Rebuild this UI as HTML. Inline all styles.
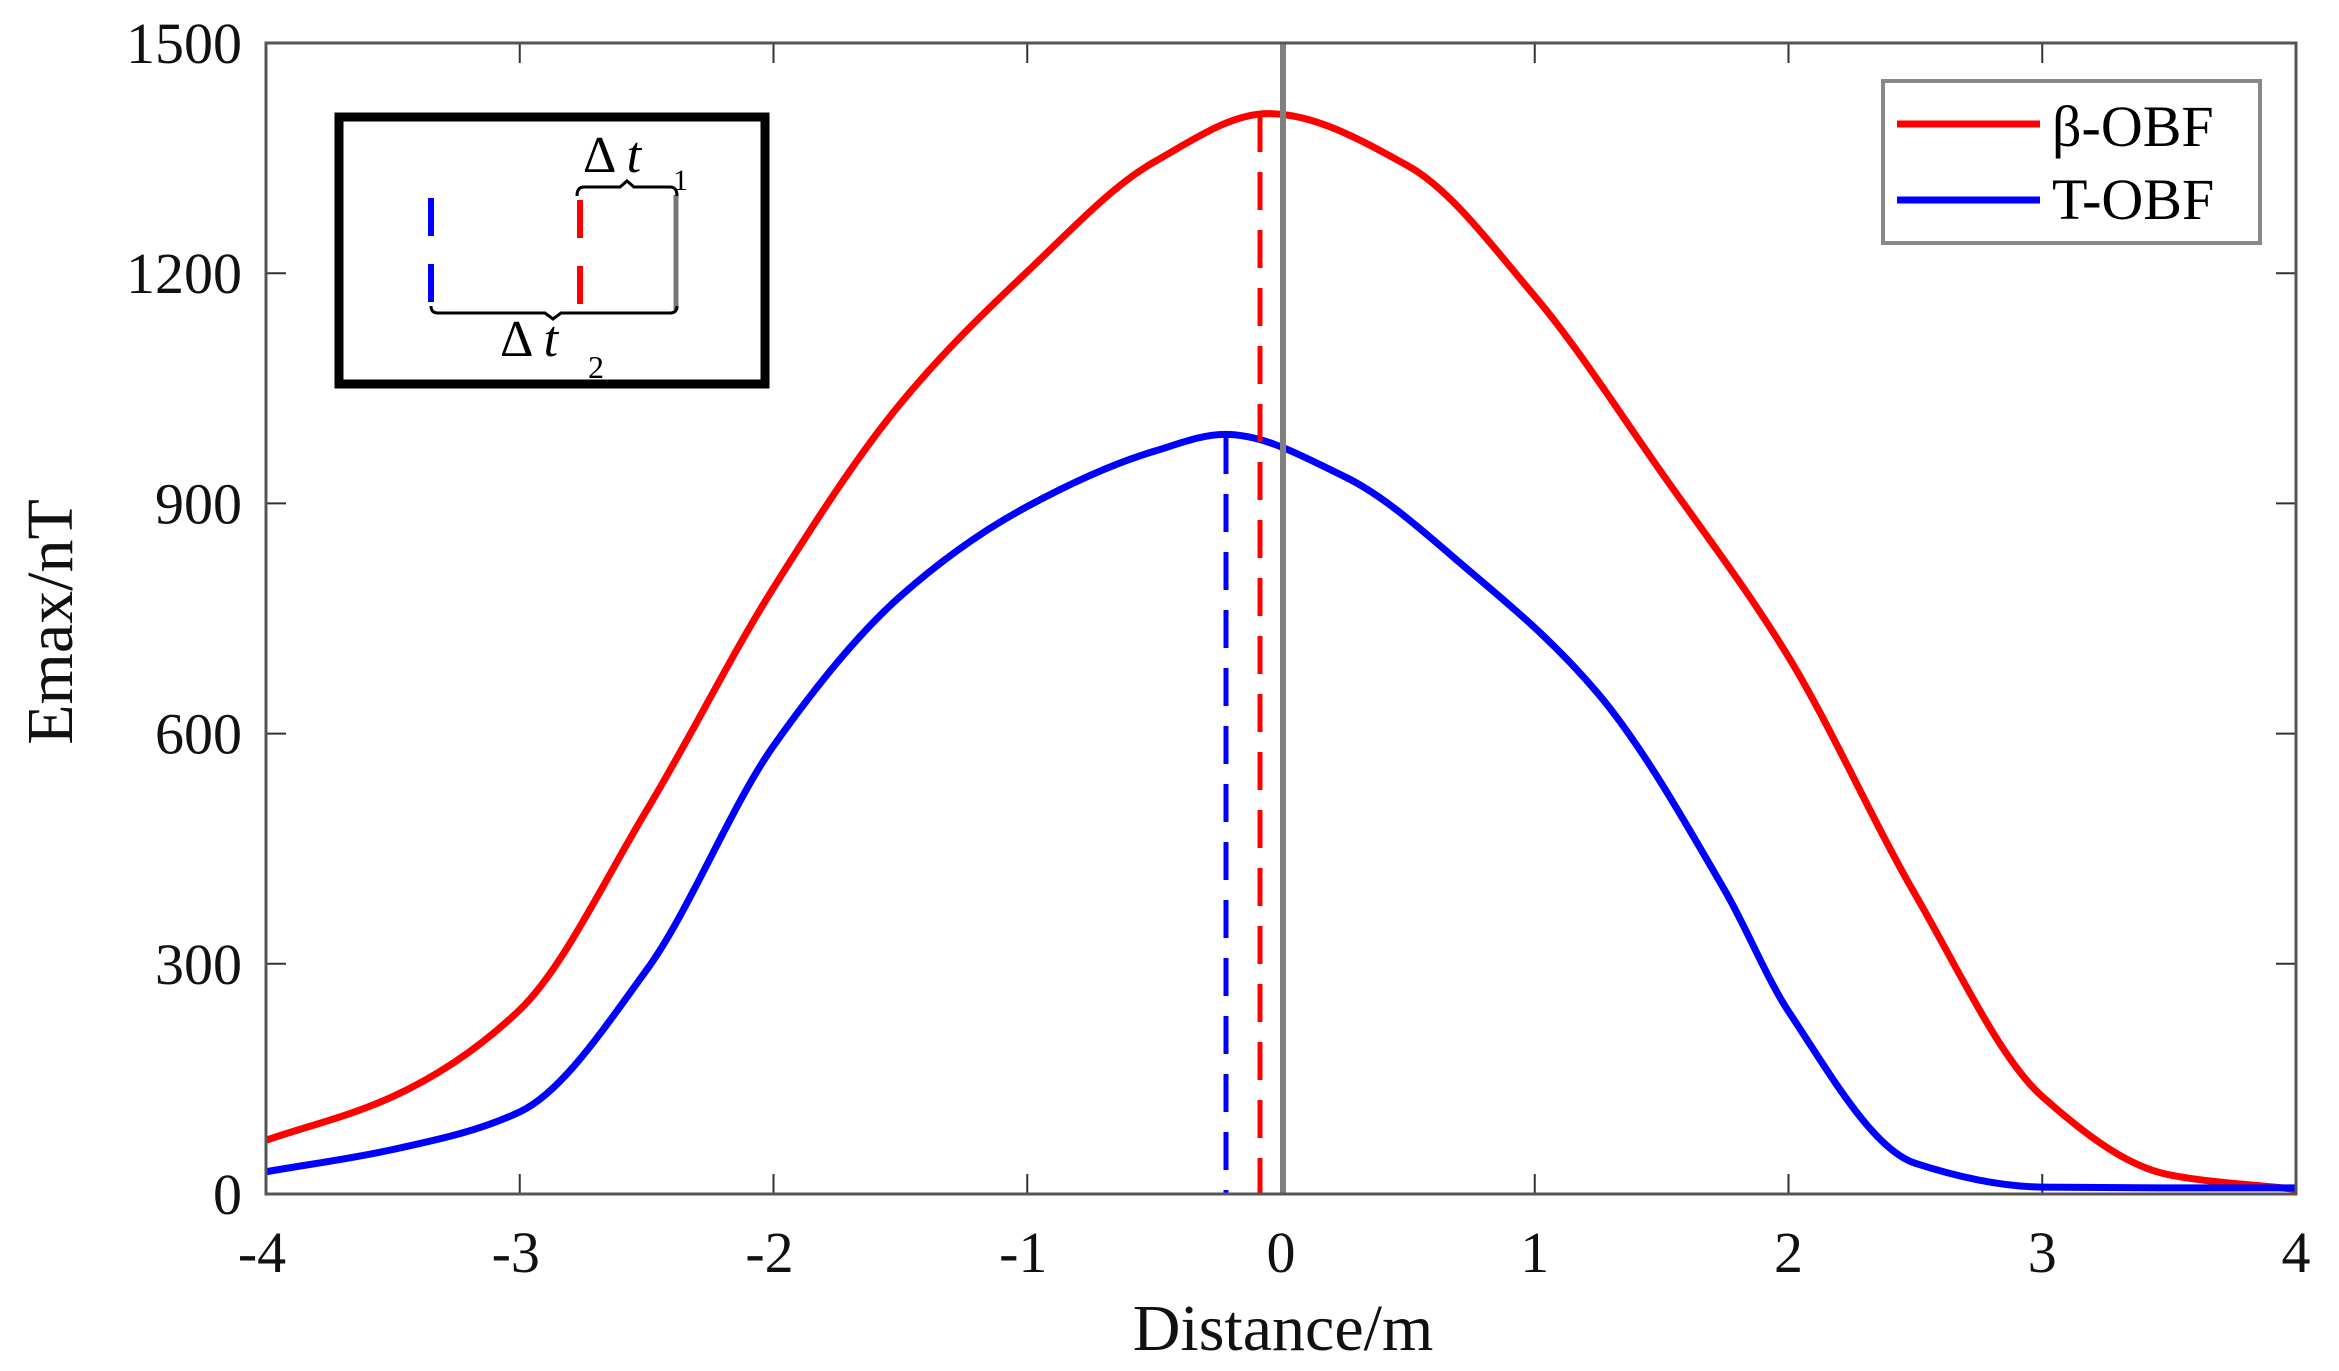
<!DOCTYPE html>
<html><head><meta charset="utf-8"><style>
html,body{margin:0;padding:0;background:#fff;}
svg{display:block;font-family:"Liberation Serif",serif;}
</style></head><body>
<svg id="s" width="2339" height="1371" viewBox="0 0 2339 1371" xmlns="http://www.w3.org/2000/svg">
<rect width="2339" height="1371" fill="#fff"/>
<g id="ticks" stroke="#333" stroke-width="2"></g>
<path id="red" fill="none" stroke="#ff0000" stroke-width="7"/>
<path id="blue" fill="none" stroke="#0000ff" stroke-width="7"/>
<line x1="1283" y1="43" x2="1283" y2="1194" stroke="#808080" stroke-width="6"/>
<line x1="1260" y1="114" x2="1260" y2="1194" stroke="#ff0000" stroke-width="5" stroke-dasharray="38,20"/>
<line x1="1226" y1="436" x2="1226" y2="1194" stroke="#0000ff" stroke-width="5" stroke-dasharray="38,20"/>
<rect x="266" y="43" width="2030" height="1151" fill="none" stroke="#555" stroke-width="3"/>
<g id="labels" font-size="58" fill="#111"></g>
<text x="1283" y="1350" font-size="66" text-anchor="middle" fill="#111">Distance/m</text>
<text transform="translate(72,622) rotate(-90)" font-size="66" text-anchor="middle" fill="#111">Emax/nT</text>
<rect x="339" y="117" width="426" height="267" fill="#fff" stroke="#000" stroke-width="9"/>
<line x1="431" y1="198" x2="431" y2="304" stroke="#0000ff" stroke-width="6" stroke-dasharray="38,28"/>
<line x1="580" y1="200" x2="580" y2="306" stroke="#ff0000" stroke-width="6" stroke-dasharray="38,28"/>
<line x1="676" y1="195" x2="676" y2="310" stroke="#777" stroke-width="5"/>
<path d="M431 306 Q431 313 438 313 L545 313 L553 319 L561 313 L670 313 Q677 313 677 306" fill="none" stroke="#000" stroke-width="3"/>
<path d="M577 196 Q577 187 584 187 L620 187 L627 181 L634 187 L670 187 Q677 187 677 196" fill="none" stroke="#000" stroke-width="3"/>
<text x="583" y="172" font-size="52" fill="#000">Δ <tspan font-style="italic">t</tspan></text>
<text x="673" y="190" font-size="30" fill="#000">1</text>
<text x="500" y="356" font-size="52" fill="#000">Δ <tspan font-style="italic">t</tspan></text>
<text x="588" y="378" font-size="32" fill="#000">2</text>
<rect x="1883" y="81" width="377" height="162" fill="#fff" stroke="#888" stroke-width="4"/>
<line x1="1897" y1="124" x2="2040" y2="124" stroke="#ff0000" stroke-width="7"/>
<line x1="1897" y1="200" x2="2040" y2="200" stroke="#0000ff" stroke-width="7"/>
<text x="2052" y="146" font-size="58" fill="#000">β-OBF</text>
<text x="2052" y="219" font-size="58" fill="#000">T-OBF</text>
</svg>
<script>
var X=function(v){return 266+(v+4)*253.75;}, Y=function(v){return 1194-v*0.7673;};
var red=[[-4,70],[-3.5,127],[-3,240],[-2.5,500],[-2,790],[-1.5,1030],[-1,1202],[-0.5,1345],[-0.05,1408],[0.5,1340],[1,1170],[1.5,940],[2,700],[2.5,390],[3,127],[3.5,25],[4,6]];
var blue=[[-4,29],[-3.5,58],[-3,107],[-2.5,292],[-2,584],[-1.5,779],[-1,896],[-0.5,968],[-0.22,990],[0.25,935],[0.75,810],[1.25,652],[1.75,395],[2,238],[2.5,40],[3,9],[3.5,8],[4,8]];
function path(p){var n=p.length,x=p.map(function(a){return a[0]}),y=p.map(function(a){return a[1]}),d=[],m=[];
for(var i=0;i<n-1;i++)d.push((y[i+1]-y[i])/(x[i+1]-x[i]));
m[0]=d[0];m[n-1]=d[n-2];
for(var i=1;i<n-1;i++){if(d[i-1]*d[i]<=0)m[i]=0;else{var h0=x[i]-x[i-1],h1=x[i+1]-x[i],w1=2*h1+h0,w2=h1+2*h0;m[i]=(w1+w2)/(w1/d[i-1]+w2/d[i]);}}
var s="M"+X(x[0])+" "+Y(y[0]);
for(var i=0;i<n-1;i++){var h=x[i+1]-x[i];
s+=" C"+X(x[i]+h/3)+" "+Y(y[i]+m[i]*h/3)+" "+X(x[i+1]-h/3)+" "+Y(y[i+1]-m[i+1]*h/3)+" "+X(x[i+1])+" "+Y(y[i+1]);}
return s;}
document.getElementById("red").setAttribute("d",path(red));
document.getElementById("blue").setAttribute("d",path(blue));
var ns="http://www.w3.org/2000/svg",t=document.getElementById("ticks"),l=document.getElementById("labels");
function ln(a,b,c,d){var e=document.createElementNS(ns,"line");e.setAttribute("x1",a);e.setAttribute("y1",b);e.setAttribute("x2",c);e.setAttribute("y2",d);t.appendChild(e);}
function tx(x,y,s,a){var e=document.createElementNS(ns,"text");e.setAttribute("x",x);e.setAttribute("y",y);e.setAttribute("text-anchor",a);e.textContent=s;l.appendChild(e);}
for(var v=-4;v<=4;v++){var x=X(v);ln(x,1194,x,1174);ln(x,43,x,63);tx(x+(v<0?-4:0),1272,String(v),"middle");}
for(var v=0;v<=1500;v+=300){var y=Y(v);ln(266,y,286,y);ln(2296,y,2276,y);tx(242,y+20,String(v),"end");}
</script>
</body></html>
